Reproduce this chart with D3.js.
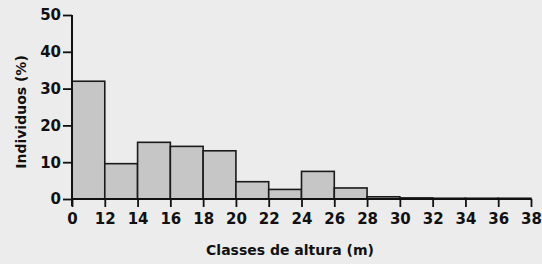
<!DOCTYPE html>
<html>
<head>
<meta charset="utf-8">
<script src="https://cdn.jsdelivr.net/npm/d3@7"></script>
<style>
  body { margin: 0; background: #ececec; }
  svg { display: block; }
  .tick text { font-family: "DejaVu Sans", sans-serif; font-weight: bold; font-size: 15px; fill: #111; }
  .label { font-family: "DejaVu Sans", sans-serif; font-weight: bold; font-size: 14px; fill: #111; }
</style>
</head>
<body>
<script>
// class edges shown on the x axis (first class is 0-12)
const edgeLabels = ["0", "12", "14", "16", "18", "20", "22", "24", "26", "28", "30", "32", "34", "36", "38"];
// percent of individuals in each height class
const percents = [32, 9.6, 15.4, 14.3, 13.1, 4.7, 2.6, 7.5, 3.0, 0.6, 0.3, 0.2, 0.2, 0.2];
const yTicks = [0, 10, 20, 30, 40, 50];

const W = 542, H = 264;
const svg = d3.select("body").append("svg")
    .attr("width", W)
    .attr("height", H);

const x = d3.scaleLinear().domain([0, edgeLabels.length - 1]).range([72, 531]);
const y = d3.scaleLinear().domain([0, 50]).range([199, 15]);

// bars
svg.selectAll("rect.bar")
    .data(percents)
    .enter()
    .append("rect")
    .attr("class", "bar")
    .attr("x", (d, i) => x(i))
    .attr("y", d => y(d))
    .attr("width", (d, i) => x(i + 1) - x(i))
    .attr("height", d => y(0) - y(d))
    .attr("fill", "#c6c6c6")
    .attr("stroke", "#1a1a1a")
    .attr("stroke-width", 1.6);

// x axis
let xAxis = svg.append("g")
    .attr("transform", "translate(0," + y(0) + ")")
    .call(d3.axisBottom(x)
        .tickValues(d3.range(edgeLabels.length))
        .tickFormat(i => edgeLabels[i])
        .tickSize(8)
        .tickPadding(6));

// y axis
let yAxis = svg.append("g")
    .attr("transform", "translate(" + x(0) + ",0)")
    .call(d3.axisLeft(y)
        .tickValues(yTicks)
        .tickSize(9)
        .tickPadding(2));

[xAxis, yAxis].forEach(function(a) {
    a.select(".domain").attr("stroke", "#111").attr("stroke-width", 2);
    a.selectAll(".tick line").attr("stroke", "#111").attr("stroke-width", 1.8);
});
xAxis.select(".domain").attr("d", "M" + x(0) + ",0H" + x(edgeLabels.length - 1));
yAxis.select(".domain").attr("d", "M0," + y(50) + "V" + (y(0) + 7));

svg.append("text")
    .attr("class", "label")
    .attr("x", 290)
    .attr("y", 255)
    .attr("text-anchor", "middle")
    .text("Classes de altura (m)");

svg.append("text")
    .attr("class", "label")
    .attr("transform", "translate(26," + 112 + ") rotate(-90)")
    .attr("text-anchor", "middle")
    .text("Individuos (%)");
</script>
</body>
</html>
